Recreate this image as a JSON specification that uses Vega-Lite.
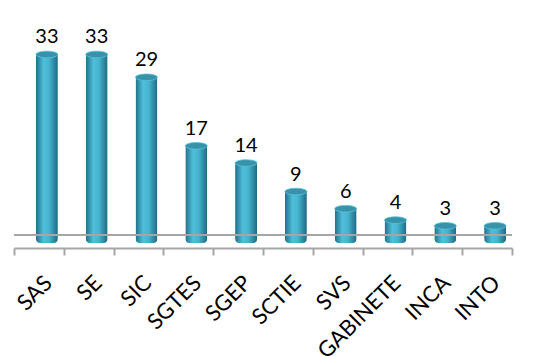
{
  "$schema": "https://vega.github.io/schema/vega-lite/v6.json",
  "width": 498,
  "height": 200,
  "autosize": "none",
  "padding": {"left": 14, "top": 43, "right": 47, "bottom": 113},
  "background": "white",
  "config": {"view": {"stroke": null}, "font": "Lato"},
  "data": {
    "values": [
      {"dept": "SAS", "n": 33},
      {"dept": "SE", "n": 33},
      {"dept": "SIC", "n": 29},
      {"dept": "SGTES", "n": 17},
      {"dept": "SGEP", "n": 14},
      {"dept": "SCTIE", "n": 9},
      {"dept": "SVS", "n": 6},
      {"dept": "GABINETE", "n": 4},
      {"dept": "INCA", "n": 3},
      {"dept": "INTO", "n": 3}
    ]
  },
  "layer": [
    {
      "mark": {
        "type": "bar",
        "size": 22,
        "xOffset": 8,
        "cornerRadiusBottomLeft": 4,
        "cornerRadiusBottomRight": 4,
        "fill": {"x1": 0, "x2": 1, "y1": 0, "y2": 0, "gradient": "linear",
          "stops": [{"offset": 0, "color": "#1f7089"}, {"offset": 0.35, "color": "#4fbfdb"}, {"offset": 0.6, "color": "#47b3cf"}, {"offset": 1, "color": "#1d6a82"}]}
      },
      "encoding": {
        "x": {
          "field": "dept",
          "type": "nominal",
          "sort": null,
          "scale": {"paddingInner": 0, "paddingOuter": 0},
          "axis": {
            "title": null,
            "labelAngle": -45,
            "labelAlign": "right",
            "labelBaseline": "middle",
            "labelFontSize": 22,
            "labelColor": "#000000",
            "labelPadding": 24,
            "labelOffset": 9,
            "domainColor": "#a6a6a6",
            "domainWidth": 2,
            "tickColor": "#a6a6a6",
            "tickWidth": 2,
            "tickSize": 7,
            "tickBand": "extent",
            "offset": 5
          }
        },
        "y": {"field": "n", "type": "quantitative", "scale": {"domain": [0, 35]}, "axis": null}
      }
    },
    {
      "mark": {"type": "rule", "color": "#a6a6a6", "strokeWidth": 2},
      "encoding": {"y": {"datum": 1.4, "type": "quantitative"}}
    },
    {
      "mark": {
        "type": "point",
        "filled": true,
        "opacity": 1,
        "xOffset": 8,
        "size": 484,
        "shape": "M -1 0 A 1 0.3 0 1 0 1 0 A 1 0.3 0 1 0 -1 0 Z",
        "color": "#3792aa",
        "stroke": "#5cc3dc",
        "strokeWidth": 0.8
      },
      "encoding": {
        "x": {"field": "dept", "type": "nominal", "sort": null},
        "y": {"field": "n", "type": "quantitative"}
      }
    },
    {
      "mark": {"type": "text", "fontSize": 20, "color": "#000000", "baseline": "alphabetic", "dy": -11, "xOffset": 8},
      "encoding": {
        "x": {"field": "dept", "type": "nominal", "sort": null},
        "y": {"field": "n", "type": "quantitative"},
        "text": {"field": "n", "type": "quantitative"}
      }
    }
  ]
}
